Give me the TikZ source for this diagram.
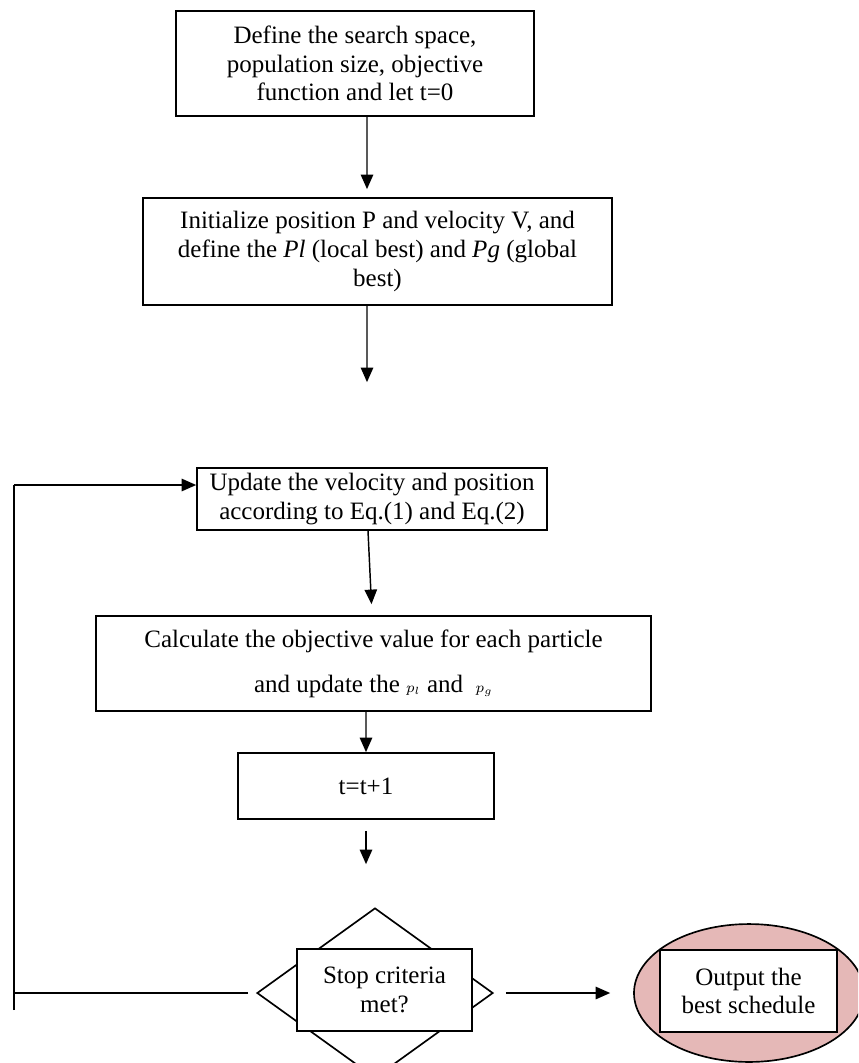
\documentclass[tikz,border=0pt]{standalone}
\usepackage{fontspec}
\setmainfont{Liberation Serif}
\usetikzlibrary{arrows.meta,shapes.geometric,calc}
\definecolor{pinkfill}{RGB}{229,184,183}
\begin{document}
\begin{tikzpicture}[x=0.48pt,y=-0.48pt,
  box/.style={draw,line width=0.8pt,inner sep=0pt,align=center,font=\fontsize{12}{13.8}\selectfont},
  arr/.style={line width=0.7pt,-{Triangle[length=7pt,width=6pt]}},
  ln/.style={line width=0.7pt}]
\useasboundingbox (0,0) rectangle (858,1063);
\clip (0,0) rectangle (858,1063);

\node[box,minimum width=171.8pt,minimum height=50.4pt] (b1) at (355,63.5)
  {Define the search space,\\population size, objective\\function and let t=0};
\node[box,minimum width=225.1pt,minimum height=51.4pt] (b2) at (377.5,251.5)
  {Initialize position P and velocity V, and\\define the \textit{Pl} (local best) and \textit{Pg} (global\\best)};
\node[box,minimum width=168pt,minimum height=29.8pt] (b3) at (372,499)
  {Update the velocity and position\\according to Eq.(1) and Eq.(2)};
\node[box,minimum width=266.4pt,minimum height=45.6pt,font=\fontsize{12}{21.6}\selectfont] (b4) at (373.5,663.5)
  {Calculate the objective value for each particle\\and update the {\scriptsize$p_l$} and \ {\scriptsize$p_g$}};
\node[box,minimum width=122.9pt,minimum height=31.7pt] (b5) at (366,786) {t=t+1};
\node[draw,line width=0.8pt,shape=diamond,inner sep=0pt,minimum width=113.3pt,minimum height=81.6pt] (d) at (375,993) {};
\node[box,fill=white,minimum width=84pt,minimum height=39.4pt] (r) at (384.5,990) {Stop criteria\\met?};
\node[draw,line width=0.8pt,shape=ellipse,fill=pinkfill,inner sep=0pt,minimum width=110.4pt,minimum height=66.2pt] (e) at (749,993) {};
\node[box,fill=white,minimum width=85pt,minimum height=39.4pt] (o) at (748.5,991) {Output the\\best schedule};

\coordinate (lb) at (14,993);
\coordinate (lt) at (14,485);
\coordinate (le) at (14,1010);

\draw[arr,shorten >=3.84pt] ([xshift=5.76pt]b1.south) -- ([xshift=-5.04pt]b2.north);
\draw[arr,shorten >=40.8pt] ([xshift=-5.04pt]b2.south) -- ([xshift=-2.4pt]b3.north);
\draw[arr,shorten >=5.28pt] ([xshift=-1.92pt]b3.south) -- ([xshift=-0.72pt]b4.north);
\draw[arr] ([xshift=-3.6pt]b4.south) -- (b5.north);
\draw[arr,shorten <=5.28pt,shorten >=20.64pt] (b5.south) -- (b5.south |- d.north);
\draw[arr,shorten <=5.76pt,shorten >=11.04pt] (d.east) -- (e.west);
\draw[ln,shorten <=3.84pt] (d.west) -- (lb);
\draw[ln] (le) -- (lt);
\draw[arr] (lt) -- (lt -| b3.west);
\end{tikzpicture}
\end{document}
